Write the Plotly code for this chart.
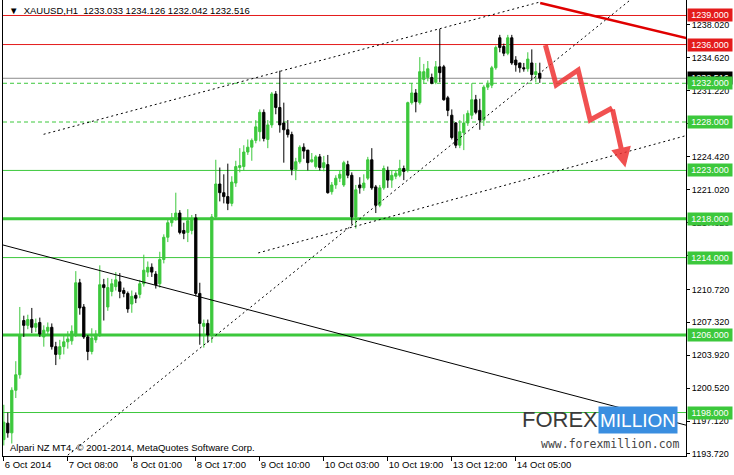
import plotly.graph_objects as go

# ---------------- data ----------------
opens = [1195.2,1196.9,1195.9,1200.3,1201.9,1207.5,1207.0,1207.6,1206.8,1207.3,
         1205.8,1206.4,1206.8,1204.8,1204.0,1204.8,1205.3,1205.4,1206.0,1211.4,
         1208.9,1205.8,1204.3,1205.5,1206.0,1211.2,1208.9,1210.5,1211.0,1211.5,
         1210.6,1210.3,1209.2,1210.1,1210.2,1211.3,1212.5,1213.0,1212.3,1211.3,
         1213.8,1216.1,1217.6,1218.1,1218.6,1216.8,1216.6,1216.8,1218.1,1210.3,
         1206.9,1207.2,1206.0,1218.2,1221.6,1220.7,1220.3,1219.6,1221.7,1223.3,
         1223.4,1224.9,1225.4,1226.1,1227.0,1229.0,1226.2,1227.7,1230.9,1229.5,
         1227.9,1227.2,1226.7,1223.1,1223.9,1225.4,1225.1,1223.9,1223.4,1224.4,
         1223.3,1223.6,1220.8,1221.5,1222.2,1221.5,1223.6,1222.5,1218.2,1221.5,
         1221.2,1222.2,1224.1,1221.3,1219.4,1221.2,1223.0,1222.0,1222.4,1222.5,
         1223.2,1223.0,1230.0,1231.0,1230.0,1232.4,1232.6,1232.6,1232.1,1233.7,
         1233.7,1230.5,1228.7,1227.9,1225.6,1226.9,1227.9,1228.7,1230.3,1229.2,
         1228.2,1231.6,1231.8,1233.6,1236.7,1235.8,1235.1,1236.7,1234.4,1234.1,
         1233.6,1233.5,1234.1,1232.9,1233.033]
highs = [1198.8,1198.0,1200.6,1203.3,1208.9,1208.0,1208.1,1208.8,1207.7,1207.8,
         1207.0,1207.3,1207.2,1205.3,1205.5,1206.0,1206.4,1207.0,1212.6,1211.8,
         1209.2,1206.0,1206.7,1206.5,1213.2,1211.8,1211.9,1211.8,1212.5,1212.4,
         1210.9,1210.5,1210.6,1210.4,1211.7,1214.3,1213.6,1213.4,1212.6,1214.6,
         1216.4,1217.9,1218.6,1220.7,1218.9,1217.6,1219.0,1218.4,1218.5,1211.4,
         1207.6,1207.6,1218.5,1224.1,1223.3,1222.6,1223.7,1222.4,1224.0,1225.3,
         1225.6,1226.2,1226.3,1228.2,1229.3,1229.3,1228.2,1231.1,1231.2,1233.3,
         1230.0,1228.2,1227.0,1224.3,1225.6,1225.8,1225.1,1224.8,1224.6,1224.7,
         1224.5,1224.6,1221.8,1222.5,1223.0,1224.0,1224.0,1222.8,1221.5,1222.3,
         1222.6,1224.4,1225.3,1221.5,1221.5,1223.5,1223.4,1223.0,1223.0,1224.1,
         1223.5,1230.1,1232.0,1231.4,1234.7,1234.0,1234.3,1233.0,1234.3,1237.6,
         1233.9,1230.7,1229.3,1228.0,1228.2,1228.8,1229.2,1232.0,1230.8,1230.4,
         1231.8,1232.3,1233.8,1235.9,1237.0,1236.1,1237.0,1237.0,1234.8,1234.1,
         1234.1,1235.2,1235.5,1234.1,1234.126]
lows = [1194.6,1195.4,1194.8,1199.5,1201.5,1205.8,1206.6,1206.2,1206.3,1205.8,
        1204.8,1205.9,1204.5,1202.9,1203.5,1204.0,1204.6,1205.0,1205.8,1208.1,
        1205.6,1203.4,1204.0,1205.2,1205.8,1207.5,1208.5,1210.0,1210.6,1209.8,
        1209.9,1208.3,1208.3,1209.3,1209.8,1211.0,1212.0,1212.0,1210.8,1210.9,
        1213.4,1215.6,1217.2,1217.8,1216.4,1215.9,1215.6,1216.4,1210.0,1205.0,
        1204.7,1205.2,1205.2,1218.0,1219.8,1219.6,1218.9,1219.3,1221.3,1222.8,
        1223.0,1224.6,1224.0,1225.8,1226.0,1226.0,1225.3,1227.4,1228.8,1226.9,
        1223.8,1226.4,1222.5,1222.0,1223.7,1224.2,1223.0,1223.8,1223.2,1223.0,
        1222.9,1220.6,1220.5,1221.1,1221.8,1221.3,1222.2,1217.4,1217.0,1220.6,
        1220.9,1222.0,1221.0,1218.6,1219.2,1221.0,1221.2,1221.2,1222.1,1222.3,
        1222.0,1222.8,1229.8,1229.0,1229.8,1232.0,1232.2,1231.9,1231.9,1232.1,
        1230.2,1228.6,1226.2,1225.3,1225.3,1225.1,1227.6,1228.3,1228.8,1227.2,
        1227.6,1231.3,1231.5,1233.4,1235.2,1234.8,1234.9,1233.9,1233.2,1233.1,
        1233.2,1233.2,1232.3,1232.1,1232.042]
closes = [1197.0,1195.9,1200.3,1201.9,1206.0,1207.0,1207.6,1206.8,1207.2,1206.1,
          1206.5,1206.8,1204.8,1204.0,1204.8,1205.3,1205.6,1206.4,1211.4,1208.8,
          1205.8,1204.3,1205.7,1206.1,1211.2,1210.9,1210.9,1211.3,1211.7,1210.5,
          1210.3,1208.7,1210.0,1209.8,1211.3,1212.7,1213.0,1212.5,1211.2,1213.8,
          1216.1,1217.6,1218.1,1218.6,1216.6,1216.5,1217.8,1218.0,1210.3,1207.2,
          1207.2,1206.0,1218.2,1221.6,1220.7,1220.3,1219.6,1221.8,1223.4,1223.5,
          1224.9,1225.4,1226.1,1227.5,1229.0,1226.3,1227.7,1230.9,1229.5,1227.7,
          1227.2,1226.7,1223.1,1223.9,1225.4,1225.0,1223.8,1224.1,1224.4,1223.3,
          1223.8,1220.7,1221.5,1222.2,1222.6,1223.8,1222.5,1218.2,1221.0,1221.2,
          1221.7,1224.1,1221.2,1219.4,1221.2,1223.2,1222.0,1222.5,1222.7,1223.2,
          1222.9,1230.0,1231.0,1230.1,1233.2,1233.2,1233.5,1232.0,1233.7,1233.1,
          1230.3,1229.2,1226.4,1225.6,1227.0,1227.9,1228.9,1230.3,1229.0,1228.2,
          1231.6,1231.9,1233.6,1235.7,1235.7,1235.1,1236.7,1234.1,1233.9,1233.6,
          1233.5,1234.5,1232.9,1233.2,1232.516]
bars = list(range(len(closes)))

time_ticks = [0, 16, 32, 48, 64, 80, 96, 112, 128]
time_labels = ["6 Oct 2014", "7 Oct 08:00", "8 Oct 01:00", "8 Oct 17:00", "9 Oct 10:00",
               "10 Oct 03:00", "10 Oct 19:00", "13 Oct 12:00", "14 Oct 05:00"]
price_ticks = [1238.02, 1234.62, 1231.22, 1227.82, 1224.42, 1221.02, 1217.62,
               1214.22, 1210.72, 1207.32, 1203.92, 1200.52, 1197.12, 1193.72]

red_levels = [1239.0, 1236.0]
green_dashed_levels = [1232.0, 1228.0]
green_thin_levels = [1223.0, 1214.0, 1198.0]
green_thick_levels = [1218.0, 1206.0]
last_price = 1232.516

# trend lines: (bar, price) endpoints
upper_channel = ([9.95, 134.1], [1226.73, 1240.40])
steep_line = ([16.0, 156.6], [1193.6, 1240.6])
lower_channel = ([63.6, 170.6], [1214.48, 1226.6])
long_down_line = ([-0.2, 170.6], [1215.3, 1196.69])
red_trend = ([134.1, 170.6], [1240.29, 1236.68])
arrow_path_x = [135.4, 138.1, 143.6, 146.6, 152.1]
arrow_path_y = [1235.95, 1231.82, 1233.37, 1228.21, 1229.45]
arrow_tip = (155.4, 1223.3)

GREEN = "#3cc83c"
RED = "#e41b1b"
FONT = "Liberation Sans"

fig = go.Figure()
fig.add_trace(go.Candlestick(
    x=bars, open=opens, high=highs, low=lows, close=closes,
    increasing=dict(line=dict(color=GREEN, width=1), fillcolor=GREEN),
    decreasing=dict(line=dict(color="black", width=1), fillcolor="black"),
    whiskerwidth=0, showlegend=False, hoverinfo="skip"))

shapes = []
for lv in red_levels:
    shapes.append(dict(type="line", xref="paper", x0=0, x1=1, yref="y", y0=lv, y1=lv,
                       line=dict(color=RED, width=1), layer="below"))
for lv in green_dashed_levels:
    shapes.append(dict(type="line", xref="paper", x0=0, x1=1, yref="y", y0=lv, y1=lv,
                       line=dict(color=GREEN, width=1, dash="4px,3px"), layer="below"))
for lv in green_thin_levels:
    shapes.append(dict(type="line", xref="paper", x0=0, x1=1, yref="y", y0=lv, y1=lv,
                       line=dict(color=GREEN, width=1), layer="below"))
for lv in green_thick_levels:
    shapes.append(dict(type="line", xref="paper", x0=0, x1=1, yref="y", y0=lv, y1=lv,
                       line=dict(color=GREEN, width=3), layer="below"))
shapes.append(dict(type="line", xref="paper", x0=0, x1=1, yref="y", y0=last_price, y1=last_price,
                   line=dict(color="#8c8c8c", width=1), layer="below"))

for (xs, ys), col, w, dash in [(upper_channel, "black", 1, "2px,3px"),
                               (steep_line, "black", 1, "2px,3px"),
                               (lower_channel, "black", 1, "2px,3px"),
                               (long_down_line, "black", 1, "solid"),
                               (red_trend, "#e00000", 2.5, "solid")]:
    fig.add_trace(go.Scatter(x=xs, y=ys, mode="lines", line=dict(color=col, width=w, dash=dash),
                             showlegend=False, hoverinfo="skip", cliponaxis=True))

fig.add_trace(go.Scatter(x=arrow_path_x, y=arrow_path_y, mode="lines",
                         line=dict(color="rgba(238,50,50,0.85)", width=5),
                         showlegend=False, hoverinfo="skip"))

annotations = [
    dict(x=arrow_tip[0], y=arrow_tip[1], ax=arrow_path_x[-1], ay=arrow_path_y[-1],
         xref="x", yref="y", axref="x", ayref="y", text="", showarrow=True,
         arrowhead=2, arrowsize=0.8, arrowwidth=5, arrowcolor="rgba(238,50,50,0.85)"),
    dict(x=0, y=1, xref="paper", yref="paper", xanchor="left", yanchor="top", xshift=4, yshift=-3,
         text="\u25bc  XAUUSD,H1  1233.033 1234.126 1232.042 1232.516", showarrow=False,
         font=dict(family=FONT, size=9.5, color="black")),
    dict(x=0, y=0, xref="paper", yref="paper", xanchor="left", yanchor="bottom", xshift=5, yshift=1,
         text="Alpari NZ MT4, \u00a9 2001-2014, MetaQuotes Software Corp.", showarrow=False,
         font=dict(family=FONT, size=9.5, color="black")),
    dict(x=1, y=0, xref="paper", yref="paper", xanchor="right", yanchor="bottom", xshift=-4, yshift=3,
         text="www.forexmillion.com", showarrow=False,
         font=dict(family="DejaVu Sans Mono", size=11.5, color="#444444")),
    dict(x=1, y=0, xref="paper", yref="paper", xanchor="right", yanchor="bottom", xshift=-8, yshift=22,
         text="MILLION", showarrow=False, bgcolor="#3a8ee0", width=76, height=24,
         font=dict(family=FONT, size=19, color="white")),
    dict(x=1, y=0, xref="paper", yref="paper", xanchor="right", yanchor="bottom", xshift=-86, yshift=22,
         text="FOREX", showarrow=False,
         font=dict(family=FONT, size=22, color="#3a3a3a")),
]

def level_label(v, bg):
    return dict(x=1, y=v, xref="paper", yref="y", xanchor="left", yanchor="middle", xshift=1,
                text=f"{v:.3f}", showarrow=False, bgcolor=bg, borderpad=1, width=42,
                font=dict(family=FONT, size=9, color="white"))

annotations.append(level_label(last_price, "black"))
for lv in red_levels:
    annotations.append(level_label(lv, RED))
for lv in green_dashed_levels + green_thin_levels + green_thick_levels:
    annotations.append(level_label(lv, GREEN))

fig.update_layout(
    width=734, height=475,
    margin=dict(l=3, r=48, t=0, b=19),
    paper_bgcolor="white", plot_bgcolor="white",
    boxgap=0.2,
    shapes=shapes, annotations=annotations,
    xaxis=dict(range=[-0.2, 170.55], tickvals=time_ticks, ticktext=time_labels,
               ticks="outside", ticklen=4, tickcolor="black", ticklabelposition="outside right",
               tickangle=0, automargin=False,
               showgrid=False, zeroline=False, showline=True, linecolor="black", mirror=True,
               rangeslider=dict(visible=False), tickfont=dict(family=FONT, size=9.5, color="black")),
    yaxis=dict(range=[1193.51, 1240.60], side="right", tickvals=price_ticks,
               ticktext=[f"{v:.3f}" for v in price_ticks], automargin=False,
               ticks="outside", ticklen=3, tickcolor="black",
               showgrid=False, zeroline=False, showline=True, linecolor="black", mirror=True,
               tickfont=dict(family=FONT, size=9, color="black")),
)

fig.write_html("out.html", config={"displayModeBar": False},
               post_script="document.body.style.margin='0';document.body.style.padding='0';")
